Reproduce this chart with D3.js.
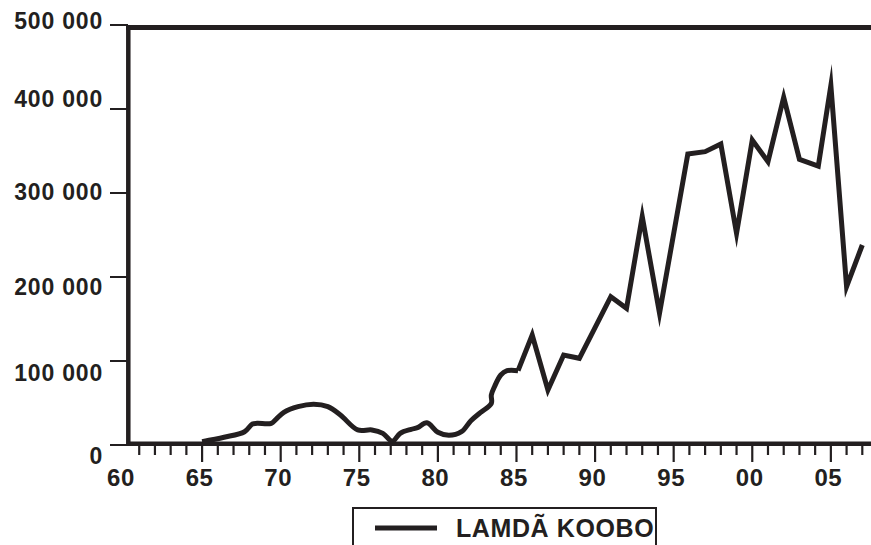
<!DOCTYPE html>
<html>
<head>
<meta charset="utf-8">
<script src="https://cdn.jsdelivr.net/npm/d3@7"></script>
<style>
    body { margin: 0; background: #fff; }
    text { font-family: "Liberation Sans", Arial, sans-serif; font-weight: bold; fill: #231f20; }
</style>
</head>
<body>
<div id="chart"></div>
<script>
    var width = 871, height = 545;
    var ink = "#231f20";

    // values (year 65 = 1965 ... 107 = 2007)
    var years = [65, 66.4, 67.7, 68.2, 68.5, 69.4, 69.7, 70.2, 71.1, 72.1, 73, 73.8, 74.9, 75.8,
                 76.5, 77.1, 77.6, 78.3, 78.7, 79.3, 80, 80.7, 81.5, 82.1, 82.7, 83.4, 83.4, 83.6,
                 84, 84.4, 85.1, 86, 87, 88, 89, 91, 92, 93, 94.1, 95.9, 97, 98, 99, 100, 101,
                 102, 103, 104.2, 105, 106, 107];
    var values = [4000, 9200, 15800, 25000, 25800, 25800, 30600, 38900, 45600, 48500, 45600, 35700, 17900, 17900,
                  13900, 4500, 13900, 18700, 20600, 26500, 15100, 11500, 15800, 28900, 38500, 49600, 59500, 69400,
                  83300, 88500, 88500, 131000, 65500, 107100, 103200, 176600, 162700, 272000, 156800, 346400, 349200, 358300, 252000, 363100, 337300,
                  414000, 340100, 332100, 428000, 188500, 238100];
    var smoothUntil = 85.1;   // before this the curve is drawn rounded, after it the line zigzags

    var yTicks = [0, 100000, 200000, 300000, 400000, 500000];
    var yTickLabels = ["0", "100 000", "200 000", "300 000", "400 000", "500 000"];
    var yLabelShift = [11, 12, 10, -1, -10, -4];
    var xMajor = [60, 65, 70, 75, 80, 85, 90, 95, 100, 105];
    var xMajorLabels = ["60", "65", "70", "75", "80", "85", "90", "95", "00", "05"];
    var legendLabel = "LAMDÃ KOOBO";

    var x = d3.scaleLinear().domain([60, 107]).range([123.5, 862.3]);
    var y = d3.scaleLinear().domain([0, 500000]).range([445, 25]);

    var svg = d3.select("#chart").append("svg")
        .attr("width", width).attr("height", height);

    var pts = years.map(function(d, i) { return [d, values[i]]; });

    // top frame line
    svg.append("line")
        .attr("x1", 126).attr("x2", width)
        .attr("y1", y(500000) + 2.5).attr("y2", y(500000) + 2.5)
        .attr("stroke", ink).attr("stroke-width", 5);

    // y ticks + labels
    svg.append("g").selectAll("line")
        .data(yTicks).enter().append("line")
        .attr("x1", 110).attr("x2", 128)
        .attr("y1", d => y(d)).attr("y2", d => y(d))
        .attr("stroke", ink).attr("stroke-width", 2);

    svg.append("g").selectAll("text")
        .data(yTicks).enter().append("text")
        .attr("x", 103)
        .attr("y", (d, i) => y(d) + yLabelShift[i])
        .attr("dy", "0.36em")
        .attr("text-anchor", "end")
        .style("font-size", "23px")
        .style("letter-spacing", "0.8px")
        .text((d, i) => yTickLabels[i]);

    // x ticks
    var xTicks = d3.range(61, 108);
    svg.append("g").selectAll("line")
        .data(xTicks).enter().append("line")
        .attr("x1", d => x(d)).attr("x2", d => x(d))
        .attr("y1", 445)
        .attr("y2", d => d % 5 == 0 ? 462 : 455)
        .attr("stroke", ink).attr("stroke-width", 2.2);

    svg.append("g").selectAll("text")
        .data(xMajor).enter().append("text")
        .attr("x", d => x(d) - 2.5)
        .attr("y", 486)
        .attr("text-anchor", "middle")
        .style("font-size", "24px")
        .style("letter-spacing", "0.6px")
        .text((d, i) => xMajorLabels[i]);

    // axis lines
    svg.append("line")
        .attr("x1", 128).attr("x2", width)
        .attr("y1", 443.7).attr("y2", 443.7)
        .attr("stroke", ink).attr("stroke-width", 4.5);
    svg.append("line")
        .attr("x1", 128.3).attr("x2", 128.3)
        .attr("y1", 26).attr("y2", 446)
        .attr("stroke", ink).attr("stroke-width", 4.5);

    // the series
    var smooth = d3.line().x(d => x(d[0])).y(d => y(d[1])).curve(d3.curveCatmullRom.alpha(0.5));
    var sharp = d3.line().x(d => x(d[0])).y(d => y(d[1]));

    svg.append("path")
        .attr("d", smooth(pts.filter(d => d[0] <= smoothUntil)))
        .attr("fill", "none").attr("stroke", ink)
        .attr("stroke-width", 5).attr("stroke-linejoin", "round");
    svg.append("path")
        .attr("d", sharp(pts.filter(d => d[0] >= smoothUntil)))
        .attr("fill", "none").attr("stroke", ink)
        .attr("stroke-width", 5).attr("stroke-linejoin", "miter").attr("stroke-miterlimit", 10);

    // legend
    var lg = svg.append("g");
    lg.append("rect")
        .attr("x", 353).attr("y", 508)
        .attr("width", 303).attr("height", 60)
        .attr("fill", "none").attr("stroke", ink).attr("stroke-width", 2);
    lg.append("line")
        .attr("x1", 375).attr("x2", 437)
        .attr("y1", 528).attr("y2", 528)
        .attr("stroke", ink).attr("stroke-width", 5);
    lg.append("text")
        .attr("x", 456).attr("y", 537)
        .style("font-size", "25px")
        .style("letter-spacing", "0.6px")
        .text(legendLabel);
</script>
</body>
</html>
